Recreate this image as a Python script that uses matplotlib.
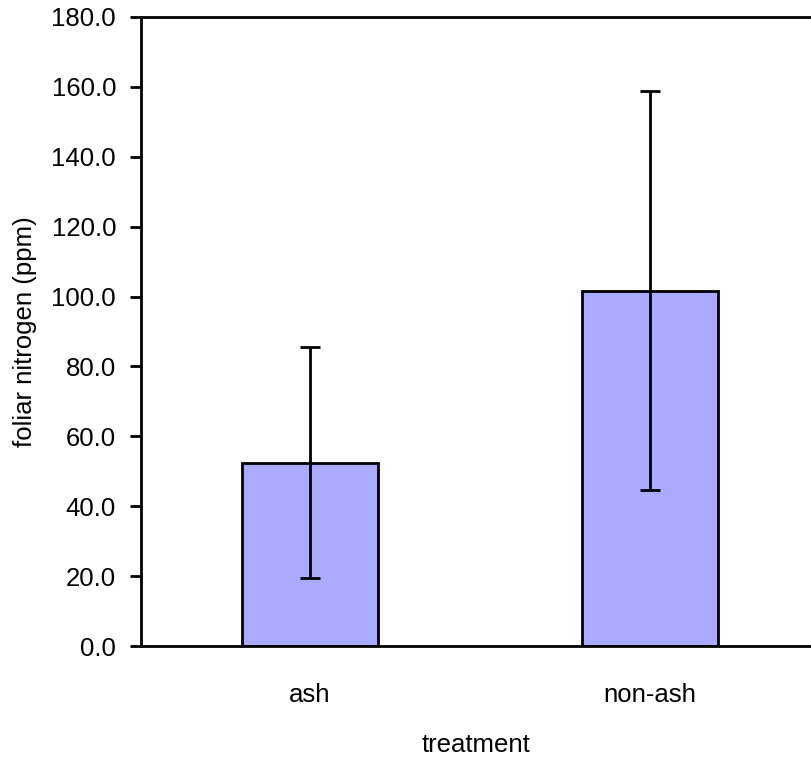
from matplotlib import pyplot as plt
import numpy as np

plt.rcParams['font.family'] = ['Liberation Sans', 'DejaVu Sans']

# data
treatments = ["ash", "non-ash"]
means = [52.5, 101.7]
errors = [33.0, 57.0]
yticks = np.arange(0, 181, 20)

fig = plt.figure(figsize=(8.11, 7.58), dpi=100)
ax = fig.add_axes([141 / 811, 1 - 646 / 758, 1 - 141 / 811, (646 - 17) / 758])

x = np.arange(len(treatments))
ax.bar(x, means, 0.4, color='#aaaaff', edgecolor='black', linewidth=2, zorder=2)
ax.errorbar(x, means, yerr=errors, fmt='none', ecolor='black', elinewidth=2,
            capsize=7, capthick=2, zorder=3)

ax.set_xlim(-0.497, 1.4735)
ax.set_ylim(0, 180)
ax.set_yticks(yticks)
ax.set_yticklabels([f"{v:.1f}" for v in yticks], fontsize=18.5)
ax.set_xticks(x)
ax.set_xticklabels(treatments, fontsize=18.5)
ax.tick_params(axis='x', length=0, pad=27)
ax.tick_params(axis='y', length=8, width=2, direction='out', pad=10)

for s in ['left', 'top', 'bottom']:
    ax.spines[s].set_linewidth(2)
ax.spines['right'].set_visible(False)

ax.set_ylabel('foliar nitrogen (ppm)', fontsize=18.5, labelpad=10)
ax.set_xlabel('treatment', fontsize=18.5, labelpad=18)

fig.savefig('out.png', dpi=100)
